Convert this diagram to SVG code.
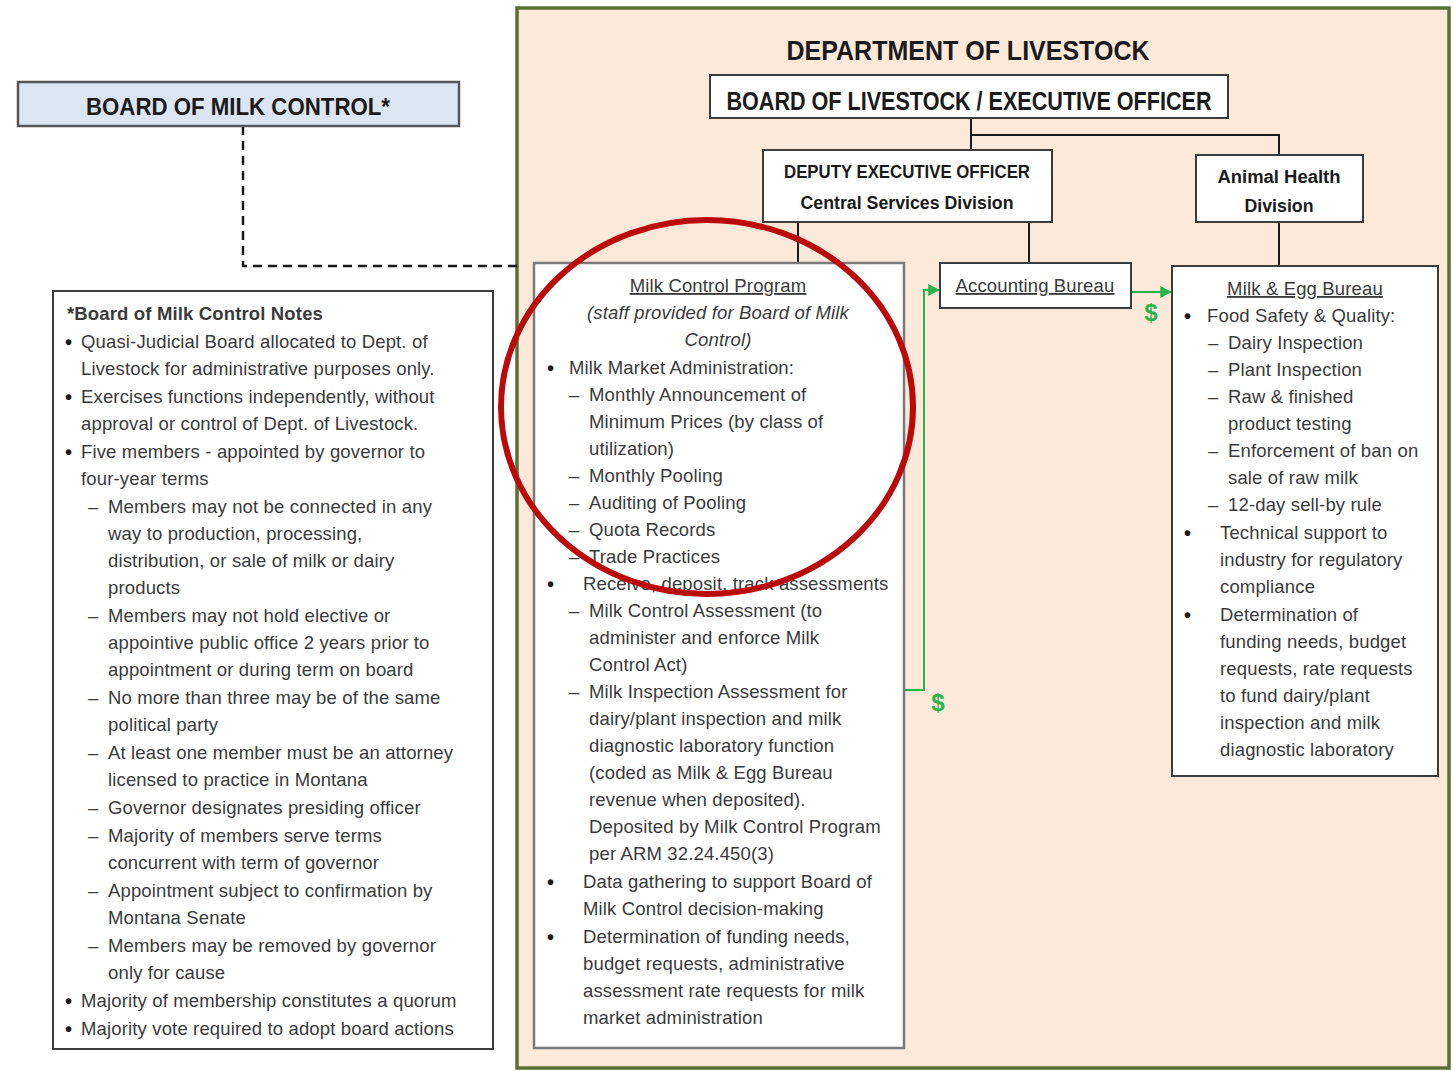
<svg xmlns="http://www.w3.org/2000/svg" width="1453" height="1071" viewBox="0 0 1453 1071">
<defs>
<style>
.box{fill:#ffffff;stroke:#3c3c3c;stroke-width:2}
.gbox{fill:#ffffff;stroke:#7a7a7a;stroke-width:2.5}
.h{font-family:"Liberation Sans",Arial,sans-serif;font-weight:bold;fill:#1a1a1a}
.t{font-family:"Liberation Sans",Arial,sans-serif;font-size:18.5px;letter-spacing:0.15px;fill:#3a3a3a}
.b{font-family:"Liberation Sans",Arial,sans-serif;font-size:20px;font-weight:bold;fill:#1a1a1a}
.u{text-decoration:underline}
.i{font-style:italic}
.ln{stroke:#1a1a1a;stroke-width:2;fill:none}
.gl{stroke:#2bb24c;stroke-width:2;fill:none}
.dl{font-family:"Liberation Sans",Arial,sans-serif;font-weight:bold;font-size:24px;fill:#2bb24c}
</style>
<marker id="ga" viewBox="0 0 10 10" refX="9" refY="5" markerWidth="6" markerHeight="6" orient="auto" markerUnits="strokeWidth">
<path d="M0,0 L10,5 L0,10 z" fill="#2bb24c"/>
</marker>
</defs>
<rect width="1453" height="1071" fill="#ffffff"/>

<g id="department">
<rect x="517" y="8" width="932" height="1060" fill="#fde9da" stroke="#5b6e35" stroke-width="3.5"/>
<text class="h" x="968" y="60" font-size="28" text-anchor="middle" textLength="363" lengthAdjust="spacingAndGlyphs">DEPARTMENT OF LIVESTOCK</text>
</g>

<g id="connectors">
<polyline class="ln" points="971,118 971,135 1279,135 1279,155"/>
<line class="ln" x1="971" y1="135" x2="971" y2="150"/>
<line class="ln" x1="798" y1="222" x2="798" y2="263"/>
<line class="ln" x1="1029" y1="222" x2="1029" y2="263"/>
<line class="ln" x1="1279" y1="222" x2="1279" y2="266"/>
<polyline points="243,126 243,266 517,266" fill="none" stroke="#1a1a1a" stroke-width="2.5" stroke-dasharray="9,6"/>
<polyline class="gl" points="905,690 924,690 924,290 939,290" marker-end="url(#ga)"/>
<line class="gl" x1="1132" y1="292" x2="1171" y2="292" marker-end="url(#ga)"/>
<text class="dl" x="938" y="711" text-anchor="middle">$</text>
<text class="dl" x="1151" y="321" text-anchor="middle">$</text>
</g>

<g id="board-milk-control">
<rect x="18" y="82" width="441" height="44" fill="#dce6f2" stroke="#555555" stroke-width="2.5"/>
<text class="h" x="238" y="115" font-size="23" text-anchor="middle" textLength="304" lengthAdjust="spacingAndGlyphs">BOARD OF MILK CONTROL*</text>
</g>

<g id="notes">
<rect class="box" x="53" y="291" width="440" height="758" stroke="#555555"/>
<text class="t" x="67" y="320" font-weight="bold" fill="#1a1a1a" letter-spacing="0">*Board of Milk Control Notes</text>
<text class="b" x="65" y="349">•</text><text class="t" x="81" y="348">Quasi-Judicial Board allocated to Dept. of</text>
<text class="t" x="81" y="375">Livestock for administrative purposes only.</text>
<text class="b" x="65" y="404">•</text><text class="t" x="81" y="403">Exercises functions independently, without</text>
<text class="t" x="81" y="430">approval or control of Dept. of Livestock.</text>
<text class="b" x="65" y="459">•</text><text class="t" x="81" y="458">Five members - appointed by governor to</text>
<text class="t" x="81" y="485">four-year terms</text>
<text class="t" x="88" y="513">–</text><text class="t" x="108" y="513">Members may not be connected in any</text>
<text class="t" x="108" y="540">way to production, processing,</text>
<text class="t" x="108" y="567">distribution, or sale of milk or dairy</text>
<text class="t" x="108" y="594">products</text>
<text class="t" x="88" y="622">–</text><text class="t" x="108" y="622">Members may not hold elective or</text>
<text class="t" x="108" y="649">appointive public office 2 years prior to</text>
<text class="t" x="108" y="676">appointment or during term on board</text>
<text class="t" x="88" y="704">–</text><text class="t" x="108" y="704">No more than three may be of the same</text>
<text class="t" x="108" y="731">political party</text>
<text class="t" x="88" y="759">–</text><text class="t" x="108" y="759">At least one member must be an attorney</text>
<text class="t" x="108" y="786">licensed to practice in Montana</text>
<text class="t" x="88" y="814">–</text><text class="t" x="108" y="814">Governor designates presiding officer</text>
<text class="t" x="88" y="842">–</text><text class="t" x="108" y="842">Majority of members serve terms</text>
<text class="t" x="108" y="869">concurrent with term of governor</text>
<text class="t" x="88" y="897">–</text><text class="t" x="108" y="897">Appointment subject to confirmation by</text>
<text class="t" x="108" y="924">Montana Senate</text>
<text class="t" x="88" y="952">–</text><text class="t" x="108" y="952">Members may be removed by governor</text>
<text class="t" x="108" y="979">only for cause</text>
<text class="b" x="65" y="1008">•</text><text class="t" x="81" y="1007">Majority of membership constitutes a quorum</text>
<text class="b" x="65" y="1036">•</text><text class="t" x="81" y="1035">Majority vote required to adopt board actions</text>
</g>

<g id="board-livestock">
<rect class="box" x="710" y="75" width="518" height="43"/>
<text class="h" x="969" y="110" font-size="25" text-anchor="middle" textLength="485" lengthAdjust="spacingAndGlyphs">BOARD OF LIVESTOCK / EXECUTIVE OFFICER</text>
</g>

<g id="deputy">
<rect class="box" x="763" y="150" width="289" height="72"/>
<text class="h" x="907" y="178" font-size="18" text-anchor="middle" textLength="246" lengthAdjust="spacingAndGlyphs">DEPUTY EXECUTIVE OFFICER</text>
<text class="h" x="907" y="209" font-size="18" text-anchor="middle" textLength="213" lengthAdjust="spacingAndGlyphs">Central Services Division</text>
</g>

<g id="animal-health">
<rect class="box" x="1196" y="155" width="167" height="67"/>
<text class="h" x="1279" y="183" font-size="18" text-anchor="middle" textLength="123" lengthAdjust="spacingAndGlyphs">Animal Health</text>
<text class="h" x="1279" y="212" font-size="18" text-anchor="middle" textLength="69" lengthAdjust="spacingAndGlyphs">Division</text>
</g>

<g id="milk-control-program">
<rect class="gbox" x="534" y="263" width="370" height="785"/>
<text class="t u" x="718" y="292" text-anchor="middle">Milk Control Program</text>
<text class="t i" x="718" y="319" text-anchor="middle">(staff provided for Board of Milk</text>
<text class="t i" x="718" y="346" text-anchor="middle">Control)</text>
<text class="b" x="547" y="375">•</text><text class="t" x="569" y="374">Milk Market Administration:</text>
<text class="t" x="569" y="401">–</text><text class="t" x="589" y="401">Monthly Announcement of</text>
<text class="t" x="589" y="428">Minimum Prices (by class of</text>
<text class="t" x="589" y="455">utilization)</text>
<text class="t" x="569" y="482">–</text><text class="t" x="589" y="482">Monthly Pooling</text>
<text class="t" x="569" y="509">–</text><text class="t" x="589" y="509">Auditing of Pooling</text>
<text class="t" x="569" y="536">–</text><text class="t" x="589" y="536">Quota Records</text>
<text class="t" x="569" y="563">–</text><text class="t" x="589" y="563">Trade Practices</text>
<text class="b" x="547" y="591">•</text><text class="t" x="583" y="590">Receive, deposit, track assessments</text>
<text class="t" x="569" y="617">–</text><text class="t" x="589" y="617">Milk Control Assessment (to</text>
<text class="t" x="589" y="644">administer and enforce Milk</text>
<text class="t" x="589" y="671">Control Act)</text>
<text class="t" x="569" y="698">–</text><text class="t" x="589" y="698">Milk Inspection Assessment for</text>
<text class="t" x="589" y="725">dairy/plant inspection and milk</text>
<text class="t" x="589" y="752">diagnostic laboratory function</text>
<text class="t" x="589" y="779">(coded as Milk &amp; Egg Bureau</text>
<text class="t" x="589" y="806">revenue when deposited).</text>
<text class="t" x="589" y="833">Deposited by Milk Control Program</text>
<text class="t" x="589" y="860">per ARM 32.24.450(3)</text>
<text class="b" x="547" y="889">•</text><text class="t" x="583" y="888">Data gathering to support Board of</text>
<text class="t" x="583" y="915">Milk Control decision-making</text>
<text class="b" x="547" y="944">•</text><text class="t" x="583" y="943">Determination of funding needs,</text>
<text class="t" x="583" y="970">budget requests, administrative</text>
<text class="t" x="583" y="997">assessment rate requests for milk</text>
<text class="t" x="583" y="1024">market administration</text>
</g>

<g id="accounting-bureau">
<rect class="box" x="940" y="263" width="191" height="45"/>
<text class="t u" x="1035" y="292" text-anchor="middle">Accounting Bureau</text>
</g>

<g id="milk-egg-bureau">
<rect class="box" x="1172" y="266" width="266" height="510"/>
<text class="t u" x="1305" y="295" text-anchor="middle">Milk &amp; Egg Bureau</text>
<text class="b" x="1184" y="323">•</text><text class="t" x="1207" y="322">Food Safety &amp; Quality:</text>
<text class="t" x="1208" y="349">–</text><text class="t" x="1228" y="349">Dairy Inspection</text>
<text class="t" x="1208" y="376">–</text><text class="t" x="1228" y="376">Plant Inspection</text>
<text class="t" x="1208" y="403">–</text><text class="t" x="1228" y="403">Raw &amp; finished</text>
<text class="t" x="1228" y="430">product testing</text>
<text class="t" x="1208" y="457">–</text><text class="t" x="1228" y="457">Enforcement of ban on</text>
<text class="t" x="1228" y="484">sale of raw milk</text>
<text class="t" x="1208" y="511">–</text><text class="t" x="1228" y="511">12-day sell-by rule</text>
<text class="b" x="1184" y="540">•</text><text class="t" x="1220" y="539">Technical support to</text>
<text class="t" x="1220" y="566">industry for regulatory</text>
<text class="t" x="1220" y="593">compliance</text>
<text class="b" x="1184" y="622">•</text><text class="t" x="1220" y="621">Determination of</text>
<text class="t" x="1220" y="648">funding needs, budget</text>
<text class="t" x="1220" y="675">requests, rate requests</text>
<text class="t" x="1220" y="702">to fund dairy/plant</text>
<text class="t" x="1220" y="729">inspection and milk</text>
<text class="t" x="1220" y="756">diagnostic laboratory</text>
</g>

<g id="highlight">
<ellipse cx="707" cy="407" rx="206" ry="187" fill="none" stroke="#bb0a0a" stroke-width="6"/>
</g>
</svg>
